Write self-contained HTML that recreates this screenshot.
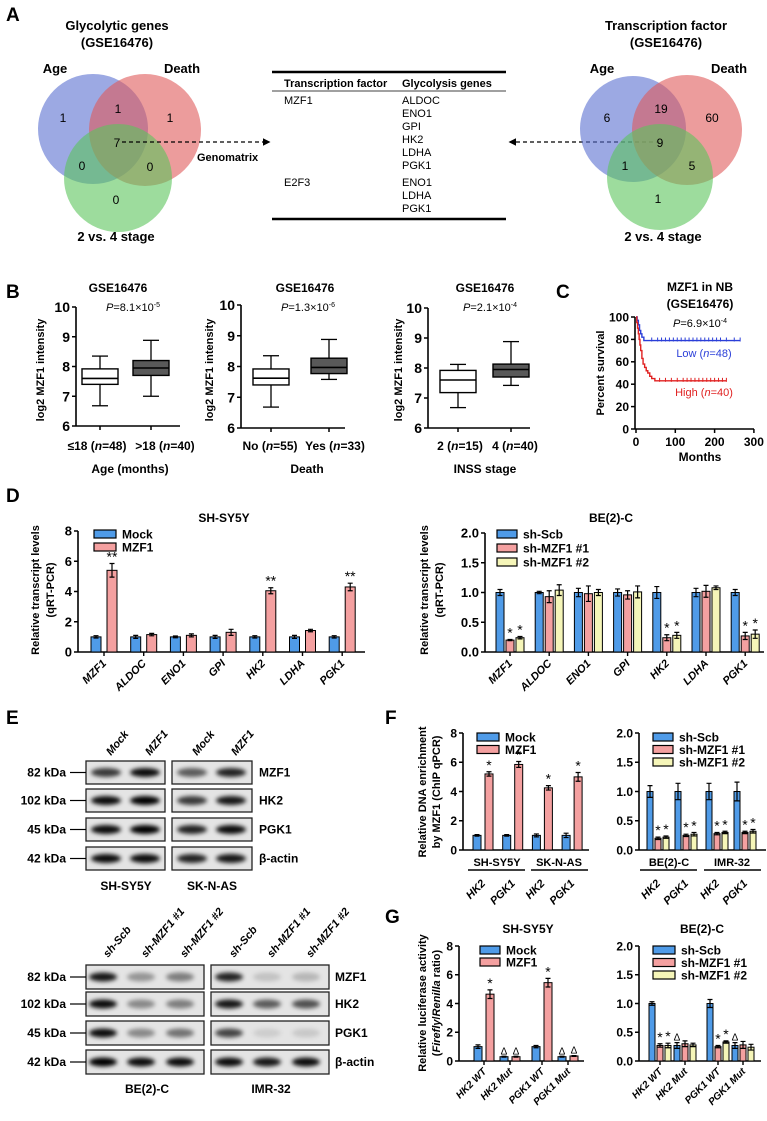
<!DOCTYPE html>
<html><head><meta charset="utf-8">
<style>
html,body{margin:0;padding:0;background:#fff;}
svg{display:block;font-family:"Liberation Sans Narrow","Liberation Sans",sans-serif;}
.b{font-weight:bold;}
</style></head>
<body>
<svg id="fig" xmlns="http://www.w3.org/2000/svg" width="767" height="1121" viewBox="0 0 767 1121">
<defs>
<filter id="blur" x="-30%" y="-60%" width="160%" height="220%"><feGaussianBlur stdDeviation="2"/></filter>
<marker id="arr" viewBox="0 0 10 10" refX="8" refY="5" markerWidth="6" markerHeight="6" orient="auto"><path d="M0,0 L10,5 L0,10 z" fill="#000"/></marker>
</defs>
<text x="6" y="21" font-size="19" class="b">A</text>
<text x="6" y="298" font-size="19" class="b">B</text>
<text x="556" y="298" font-size="19" class="b">C</text>
<text x="6" y="502" font-size="19" class="b">D</text>
<text x="6" y="724" font-size="19" class="b">E</text>
<text x="385" y="724" font-size="19" class="b">F</text>
<text x="385" y="923" font-size="19" class="b">G</text>

<g>
<text x="117" y="30" font-size="13" class="b" text-anchor="middle">Glycolytic genes</text>
<text x="117" y="47" font-size="13" class="b" text-anchor="middle">(GSE16476)</text>
<text x="55" y="73" font-size="13" class="b" text-anchor="middle">Age</text>
<text x="182" y="73" font-size="13" class="b" text-anchor="middle">Death</text>
<circle cx="93" cy="129" r="55" fill="#5a6fd0" fill-opacity="0.6"/>
<circle cx="145" cy="130" r="56" fill="#e05a5a" fill-opacity="0.6"/>
<circle cx="118" cy="178" r="54" fill="#5cc45c" fill-opacity="0.6"/>
<g font-size="12" text-anchor="middle">
<text x="63" y="122">1</text>
<text x="118" y="113">1</text>
<text x="170" y="122">1</text>
<text x="117" y="147">7</text>
<text x="82" y="170">0</text>
<text x="150" y="171">0</text>
<text x="116" y="204">0</text>
</g>
<text x="116" y="241" font-size="13" class="b" text-anchor="middle">2 vs. 4 stage</text>
</g>
<line x1="122" y1="142" x2="269" y2="142" stroke="#000" stroke-width="1.3" stroke-dasharray="4,3" marker-end="url(#arr)"/>
<text x="197" y="161" font-size="11" class="b">Genomatrix</text>

<g font-size="11">
<line x1="272" y1="72" x2="506" y2="72" stroke="#000" stroke-width="2.5"/>
<text x="284" y="87" class="b">Transcription factor</text>
<text x="402" y="87" class="b">Glycolysis genes</text>
<line x1="272" y1="91" x2="506" y2="91" stroke="#000" stroke-width="0.8"/>
<text x="284" y="104">MZF1</text>
<text x="402" y="104">ALDOC</text><text x="402" y="117">ENO1</text><text x="402" y="130">GPI</text>
<text x="402" y="143">HK2</text><text x="402" y="156">LDHA</text><text x="402" y="169">PGK1</text>
<text x="284" y="186">E2F3</text>
<text x="402" y="186">ENO1</text><text x="402" y="199">LDHA</text><text x="402" y="212">PGK1</text>
<line x1="272" y1="219" x2="506" y2="219" stroke="#000" stroke-width="2.5"/>
</g>
<line x1="660" y1="142" x2="510" y2="142" stroke="#000" stroke-width="1.3" stroke-dasharray="4,3" marker-end="url(#arr)"/>

<g>
<text x="666" y="30" font-size="13" class="b" text-anchor="middle">Transcription factor</text>
<text x="666" y="47" font-size="13" class="b" text-anchor="middle">(GSE16476)</text>
<text x="602" y="73" font-size="13" class="b" text-anchor="middle">Age</text>
<text x="729" y="73" font-size="13" class="b" text-anchor="middle">Death</text>
<circle cx="633" cy="129" r="53" fill="#5a6fd0" fill-opacity="0.6"/>
<circle cx="687" cy="130" r="55" fill="#e05a5a" fill-opacity="0.6"/>
<circle cx="660" cy="177" r="53" fill="#5cc45c" fill-opacity="0.6"/>
<g font-size="12" text-anchor="middle">
<text x="607" y="122">6</text>
<text x="661" y="113">19</text>
<text x="712" y="122">60</text>
<text x="660" y="147">9</text>
<text x="625" y="170">1</text>
<text x="692" y="170">5</text>
<text x="658" y="203">1</text>
</g>
<text x="663" y="241" font-size="13" class="b" text-anchor="middle">2 vs. 4 stage</text>
</g>

<g font-size="12" class="b" text-anchor="middle">
<text x="118" y="292">GSE16476</text>
<text x="305" y="292">GSE16476</text>
<text x="485" y="292">GSE16476</text>
<text x="130" y="473">Age (months)</text>
<text x="307" y="473">Death</text>
<text x="485" y="473">INSS stage</text>
<text x="700" y="291">MZF1 in NB</text>
<text x="700" y="308">(GSE16476)</text>
<text x="700" y="461">Months</text>
</g>
<g font-size="11" text-anchor="middle">
<text x="133" y="311"><tspan font-style="italic">P</tspan>=8.1×10<tspan font-size="7" dy="-4">-5</tspan></text>
<text x="308" y="311"><tspan font-style="italic">P</tspan>=1.3×10<tspan font-size="7" dy="-4">-6</tspan></text>
<text x="490" y="311"><tspan font-style="italic">P</tspan>=2.1×10<tspan font-size="7" dy="-4">-4</tspan></text>
<text x="700" y="327"><tspan font-style="italic">P</tspan>=6.9×10<tspan font-size="7" dy="-4">-4</tspan></text>
<text x="704" y="357" fill="#2a3ed8">Low (<tspan font-style="italic">n</tspan>=48)</text>
<text x="704" y="396" fill="#e02020">High (<tspan font-style="italic">n</tspan>=40)</text>
</g>

<text x="224" y="522" font-size="12" class="b" text-anchor="middle">SH-SY5Y</text>
<text x="611" y="522" font-size="12" class="b" text-anchor="middle">BE(2)-C</text>
<text x="528" y="933" font-size="12" class="b" text-anchor="middle">SH-SY5Y</text>
<text x="702" y="933" font-size="12" class="b" text-anchor="middle">BE(2)-C</text>

<g font-size="11" class="b" text-anchor="middle" font-family="Liberation Sans, sans-serif">
<text transform="translate(44,370) rotate(-90)">log2 MZF1 intensity</text>
<text transform="translate(213,370) rotate(-90)">log2 MZF1 intensity</text>
<text transform="translate(402,370) rotate(-90)">log2 MZF1 intensity</text>
<text transform="translate(604,373) rotate(-90)">Percent survival</text>
<text transform="translate(39,590) rotate(-90)">Relative transcript levels</text>
<text transform="translate(54,590) rotate(-90)">(qRT-PCR)</text>
<text transform="translate(428,590) rotate(-90)">Relative transcript levels</text>
<text transform="translate(443,590) rotate(-90)">(qRT-PCR)</text>
<text transform="translate(426,792) rotate(-90)">Relative DNA enrichment</text>
<text transform="translate(440,792) rotate(-90)">by MZF1 (ChIP qPCR)</text>
<text transform="translate(426,1003) rotate(-90)">Relative luciferase activity</text>
<text transform="translate(440,1003) rotate(-90)">(<tspan font-style="italic">Firefly</tspan>/<tspan font-style="italic">Renilla</tspan> ratio)</text>
</g>
<g font-size="11" class="b" text-anchor="middle">
<text x="497" y="866">SH-SY5Y</text>
<line x1="468" y1="870" x2="525" y2="870" stroke="#000" stroke-width="1.5"/>
<text x="559" y="866">SK-N-AS</text>
<line x1="531" y1="870" x2="588" y2="870" stroke="#000" stroke-width="1.5"/>
<text x="669" y="866">BE(2)-C</text>
<line x1="640" y1="870" x2="697" y2="870" stroke="#000" stroke-width="1.5"/>
<text x="732" y="866">IMR-32</text>
<line x1="704" y1="870" x2="761" y2="870" stroke="#000" stroke-width="1.5"/>
</g>
<g font-size="12" class="b" text-anchor="middle">
<text x="126" y="890">SH-SY5Y</text>
<text x="212" y="890">SK-N-AS</text>
<text x="147" y="1093">BE(2)-C</text>
<text x="271" y="1093">IMR-32</text>
</g>
</svg>
<script>
const box1Cats = ['≤18 (n=48)', '>18 (n=40)'];
const box1Lo = [6.68, 7.0], box1Q1 = [7.4, 7.7], box1Med = [7.6, 7.95], box1Q3 = [7.92, 8.2], box1Hi = [8.35, 8.88];
const box2Cats = ['No (n=55)', 'Yes (n=33)'];
const box2Lo = [6.68, 7.58], box2Q1 = [7.4, 7.77], box2Med = [7.62, 7.97], box2Q3 = [7.92, 8.27], box2Hi = [8.35, 8.88];
const box3Cats = ['2 (n=15)', '4 (n=40)'];
const box3Lo = [6.68, 7.42], box3Q1 = [7.18, 7.7], box3Med = [7.6, 7.95], box3Q3 = [7.92, 8.13], box3Hi = [8.12, 8.88];
const boxTicks = [6, 7, 8, 9, 10];
const kmLowT = [0, 3, 6, 9, 12, 15, 20, 265];
const kmLowS = [100, 97, 93, 88, 85, 82, 79, 79];
const kmHighT = [0, 2, 4, 6, 8, 10, 12, 15, 18, 22, 26, 30, 35, 40, 48, 230];
const kmHighS = [100, 95, 90, 85, 80, 75, 70, 63, 58, 55, 52, 50, 47, 45, 43, 43];
const kmLowCens = [40, 55, 65, 75, 85, 95, 105, 115, 125, 135, 145, 155, 165, 175, 185, 195, 205, 215, 230, 250, 265];
const kmHighCens = [60, 75, 90, 105, 120, 130, 140, 150, 160, 170, 180, 190, 200, 210, 220, 230];
const kmXTicks = [0, 100, 200, 300];
const kmYTicks = [0, 20, 40, 60, 80, 100];
const dGenes = ['MZF1', 'ALDOC', 'ENO1', 'GPI', 'HK2', 'LDHA', 'PGK1'];
const dLeftMock = [1, 1, 1, 1, 1, 1, 1];
const dLeftMockErr = [0.08, 0.1, 0.06, 0.1, 0.08, 0.1, 0.08];
const dLeftMZF1 = [5.4, 1.15, 1.1, 1.3, 4.05, 1.42, 4.3];
const dLeftMZF1Err = [0.45, 0.08, 0.1, 0.2, 0.2, 0.08, 0.25];
const dLeftAnn = ['**', '', '', '', '**', '', '**'];
const dRightScb = [1, 1, 1, 1, 1, 1, 1];
const dRightScbErr = [0.05, 0.02, 0.07, 0.06, 0.1, 0.07, 0.05];
const dRightSh1 = [0.2, 0.93, 0.98, 0.96, 0.24, 1.02, 0.27];
const dRightSh1Err = [0.01, 0.1, 0.13, 0.07, 0.05, 0.1, 0.06];
const dRightSh2 = [0.24, 1.04, 1.0, 1.01, 0.28, 1.08, 0.3];
const dRightSh2Err = [0.02, 0.09, 0.05, 0.1, 0.05, 0.03, 0.07];
const dRightAnn1 = ['*', '', '', '', '*', '', '*'];
const dRightAnn2 = ['*', '', '', '', '*', '', '*'];
const fLeftCats = ['HK2', 'PGK1', 'HK2', 'PGK1'];
const fLeftMock = [1, 1, 1, 1];
const fLeftMockErr = [0.05, 0.05, 0.1, 0.15];
const fLeftMZF1 = [5.2, 5.85, 4.25, 5.0];
const fLeftMZF1Err = [0.15, 0.2, 0.15, 0.3];
const fLeftAnn = ['*', '*', '*', '*'];
const fRightCats = ['HK2', 'PGK1', 'HK2', 'PGK1'];
const fRightScb = [1, 1, 1, 1];
const fRightScbErr = [0.1, 0.14, 0.14, 0.16];
const fRightSh1 = [0.2, 0.25, 0.28, 0.3];
const fRightSh1Err = [0.02, 0.02, 0.02, 0.02];
const fRightSh2 = [0.22, 0.27, 0.3, 0.32];
const fRightSh2Err = [0.02, 0.03, 0.02, 0.03];
const gCats = ['HK2 WT', 'HK2 Mut', 'PGK1 WT', 'PGK1 Mut'];
const gLeftMock = [1.0, 0.3, 1.0, 0.3];
const gLeftMockErr = [0.12, 0.03, 0.08, 0.03];
const gLeftMZF1 = [4.65, 0.3, 5.45, 0.35];
const gLeftMZF1Err = [0.3, 0.03, 0.3, 0.03];
const gLeftAnnMock = ['', 'Δ', '', 'Δ'];
const gLeftAnnMZF1 = ['*', 'Δ', '*', 'Δ'];
const gRightScb = [1.0, 0.27, 1.0, 0.27];
const gRightScbErr = [0.03, 0.05, 0.07, 0.05];
const gRightSh1 = [0.27, 0.3, 0.25, 0.28];
const gRightSh1Err = [0.03, 0.05, 0.02, 0.06];
const gRightSh2 = [0.27, 0.28, 0.33, 0.24];
const gRightSh2Err = [0.04, 0.03, 0.02, 0.05];
const gRightAnnScb = ['', 'Δ', '', 'Δ'];
const gRightAnnSh1 = ['*', '', '*', ''];
const gRightAnnSh2 = ['*', '', '*', ''];
const wbTopRows = ['MZF1', 'HK2', 'PGK1', 'β-actin'];
const wbTopKDa = ['82 kDa', '102 kDa', '45 kDa', '42 kDa'];
const wbTopLanes = ['Mock', 'MZF1', 'Mock', 'MZF1'];
const wbTopInt = [[0.75, 0.95, 0.6, 0.85], [0.95, 1.0, 0.75, 0.9], [0.95, 1.0, 0.85, 0.95], [0.95, 0.95, 0.85, 0.9]];
const wbBotRows = ['MZF1', 'HK2', 'PGK1', 'β-actin'];
const wbBotKDa = ['82 kDa', '102 kDa', '45 kDa', '42 kDa'];
const wbBotLanes = ['sh-Scb', 'sh-MZF1 #1', 'sh-MZF1 #2', 'sh-Scb', 'sh-MZF1 #1', 'sh-MZF1 #2'];
const wbBotInt = [[0.9, 0.35, 0.45, 0.85, 0.15, 0.2], [0.95, 0.4, 0.45, 0.9, 0.6, 0.65], [0.95, 0.4, 0.5, 0.7, 0.1, 0.12], [1.0, 0.95, 0.95, 0.95, 0.9, 0.95]];

const NS = 'http://www.w3.org/2000/svg';
const svg = document.getElementById('fig');
function mk(tag, attrs, parent) {
  const e = document.createElementNS(NS, tag);
  for (const k in attrs) e.setAttribute(k, attrs[k]);
  (parent || svg).appendChild(e);
  return e;
}
function tx(x, y, s, attrs, parent) {
  const e = mk('text', Object.assign({x: x, y: y}, attrs || {}), parent);
  e.textContent = s;
  return e;
}
const BLUE = '#4f9be8', RED = '#f4a0a0', YEL = '#f5f5b8';

function yAxis(g, x, y0, yTop, vmin, vmax, ticks, fmt, fs) {
  const sy = v => y0 - (v - vmin) / (vmax - vmin) * (y0 - yTop);
  const ax = mk('line', {x1: x, y1: y0, x2: x, y2: yTop, stroke: '#000', 'stroke-width': 1.6}, g);
  
  
  ticks.forEach(t => {
    const tl = mk('line', {x1: x - 4, y1: sy(t), x2: x, y2: sy(t), stroke: '#000', 'stroke-width': 1.5}, g);
    
    
    const lb = tx(x - 6, sy(t) + fs * 0.36, fmt(t), {'font-size': fs, 'font-weight': 'bold', 'text-anchor': 'end'}, g);
    
    
  });
  return sy;
}
function xAxis(g, x1, x2, y) {
  const l = mk('line', {x1: x1, y1: y, x2: x2, y2: y, stroke: '#000', 'stroke-width': 1.6}, g);
  
  
}

function boxPlot(name, axX, axEnd, y0, yTop, cats, centers, lo, q1, med, q3, hi, catLabelX, fills) {
  const g = mk('g', {});  
  const sy = yAxis(g, axX, y0, yTop, 6, 10, boxTicks, v => String(v), 14);
  xAxis(g, axX, axEnd, y0);
  cats.forEach((c, i) => {
    const cx = centers[i], w = 36;
    const wl = mk('line', {x1: cx, y1: sy(lo[i]), x2: cx, y2: sy(hi[i]), stroke: '#000', 'stroke-width': 1.3}, g);
    
    
    [lo[i], hi[i]].forEach(v => {
      const cap = mk('line', {x1: cx - 8, y1: sy(v), x2: cx + 8, y2: sy(v), stroke: '#000', 'stroke-width': 1.3}, g);
      
      
    });
    const r = mk('rect', {x: cx - w / 2, y: sy(q3[i]), width: w, height: sy(q1[i]) - sy(q3[i]), fill: fills[i], stroke: '#000', 'stroke-width': 1.4}, g);
    
    
    const m = mk('line', {x1: cx - w / 2, y1: sy(med[i]), x2: cx + w / 2, y2: sy(med[i]), stroke: '#000', 'stroke-width': 1.6}, g);
    
    
    const tk = mk('line', {x1: cx, y1: y0, x2: cx, y2: y0 + 4, stroke: '#000', 'stroke-width': 1.5}, g);
    
    
    const parts = c.match(/^(.*)\((n)(=\d+)\)$/);
    const lb = mk('text', {x: catLabelX[i], y: 450, 'font-size': 12, 'font-weight': 'bold', 'text-anchor': 'middle'}, g);
    
    
    lb.appendChild(document.createTextNode(parts[1] + '('));
    const it = mk('tspan', {'font-style': 'italic'}, lb); it.textContent = 'n';
    lb.appendChild(document.createTextNode(parts[3] + ')'));
  });
}
boxPlot('box-plot-age', 76, 180, 426, 307, box1Cats, [100, 151], box1Lo, box1Q1, box1Med, box1Q3, box1Hi, [97, 165], ['#fff', '#595959']);
boxPlot('box-plot-death', 241, 345, 428, 305, box2Cats, [271, 329], box2Lo, box2Q1, box2Med, box2Q3, box2Hi, [270, 335], ['#fff', '#595959']);
boxPlot('box-plot-stage', 428, 530, 428, 308, box3Cats, [458, 511], box3Lo, box3Q1, box3Med, box3Q3, box3Hi, [460, 515], ['#fff', '#595959']);

(function () {
  const g = mk('g', {});  
  const sx = t => 636 + t * 0.393;
  const sy = yAxis(g, 635, 429, 317, 0, 100, kmYTicks, v => String(v), 12);
  xAxis(g, 635, 754, 429);
  kmXTicks.forEach(t => {
    const tk = mk('line', {x1: sx(t), y1: 429, x2: sx(t), y2: 433, stroke: '#000', 'stroke-width': 1.5}, g);
    
    
    const lb = tx(sx(t), 446, String(t), {'font-size': 12, 'font-weight': 'bold', 'text-anchor': 'middle'}, g);
    
    
  });
  function step(T, S, col, cens, name) {
    let d = 'M' + sx(T[0]) + ',' + sy(S[0]);
    for (let i = 1; i < T.length; i++) d += ' H' + sx(T[i]) + ' V' + sy(S[i]);
    const p = mk('path', {d: d, fill: 'none', stroke: col, 'stroke-width': 1.4}, g);
    
    
    const last = S[S.length - 1];
    cens.forEach(t => {
      const c = mk('line', {x1: sx(t), y1: sy(last) - 3, x2: sx(t), y2: sy(last) + 1, stroke: col, 'stroke-width': 1}, g);
      
      
    });
  }
  step(kmLowT, kmLowS, '#2a3ed8', kmLowCens, 'km-low-curve');
  step(kmHighT, kmHighS, '#e02020', kmHighCens, 'km-high-curve');
})();

function barChart(cfg) {
  const g = mk('g', {});  
  const sy = yAxis(g, cfg.axX, cfg.y0, cfg.yTop, 0, cfg.ymax, cfg.ticks, cfg.fmt, cfg.fs);
  xAxis(g, cfg.axX, cfg.axEnd, cfg.y0);
  const n = cfg.cats.length;
  for (let i = 0; i < n; i++) {
    const cx = cfg.center(i);
    cfg.series.forEach((s, k) => {
      const bx = cx + cfg.offsets[k];
      const v = s[i], e = cfg.errs[k][i];
      const r = mk('rect', {x: bx - cfg.bw / 2, y: sy(v), width: cfg.bw, height: cfg.y0 - sy(v), fill: cfg.colors[k], stroke: '#000', 'stroke-width': 1}, g);
      
      
      const el = mk('path', {d: 'M' + bx + ',' + sy(v - e) + ' V' + sy(v + e) + ' M' + (bx - 2.5) + ',' + sy(v + e) + ' h5 M' + (bx - 2.5) + ',' + sy(v - e) + ' h5', stroke: '#000', 'stroke-width': 1.2, fill: 'none'}, g);
      
      
      const a = cfg.ann[k] ? cfg.ann[k][i] : '';
      if (a) {
        const at = tx(bx, sy(v + e) - 2, a, {'font-size': a === 'Δ' ? 10 : 14, 'text-anchor': 'middle'}, g);
        
        
      }
    });
    if (cfg.xTicks) {
      const tk = mk('line', {x1: cx, y1: cfg.y0, x2: cx, y2: cfg.y0 + 4, stroke: '#000', 'stroke-width': 1.4}, g);
      
      
    }
    const ly = cfg.labelY;
    const lb = tx(cx + 3, ly, cfg.cats[i], {'font-size': cfg.lfs, 'font-weight': 'bold', 'font-style': 'italic', 'text-anchor': 'end', transform: 'rotate(-45 ' + (cx + 3) + ' ' + ly + ')'}, g);
    
    
  }
  cfg.legend.forEach((l, k) => {
    const r = mk('rect', {x: cfg.legX, y: cfg.legY + k * cfg.legDy - 4, width: cfg.legW, height: 8, fill: cfg.colors[k], stroke: '#000', 'stroke-width': 1.2}, g);
    
    
    const t = tx(cfg.legX + cfg.legW + 6, cfg.legY + k * cfg.legDy + 4.5, l, {'font-size': cfg.legFs, 'font-weight': 'bold'}, g);
    
    
  });
}
const f1 = v => v.toFixed(1), f0 = v => String(v);
barChart({name: 'chart-d-shsy5y', axX: 78, axEnd: 365, y0: 652, yTop: 531, ymax: 8, ticks: [0, 2, 4, 6, 8], fmt: f0, fs: 13,
  cats: dGenes, center: i => 104 + i * 39.7, series: [dLeftMock, dLeftMZF1], errs: [dLeftMockErr, dLeftMZF1Err],
  offsets: [-8, 8], bw: 10, colors: [BLUE, RED], seriesNames: ['mock', 'mzf1'], ann: [null, dLeftAnn], xTicks: true,
  labelY: 664, lfs: 11, legend: ['Mock', 'MZF1'], legX: 94, legY: 534, legDy: 13, legW: 22, legFs: 12});
barChart({name: 'chart-d-be2c', axX: 485, axEnd: 764, y0: 652, yTop: 533, ymax: 2, ticks: [0, 0.5, 1, 1.5, 2], fmt: f1, fs: 13,
  cats: dGenes, center: i => 510 + i * 39.2, series: [dRightScb, dRightSh1, dRightSh2], errs: [dRightScbErr, dRightSh1Err, dRightSh2Err],
  offsets: [-10, 0, 10], bw: 8, colors: [BLUE, RED, YEL], seriesNames: ['sh-scb', 'sh-mzf1-1', 'sh-mzf1-2'], ann: [null, dRightAnn1, dRightAnn2], xTicks: true,
  labelY: 664, lfs: 11, legend: ['sh-Scb', 'sh-MZF1 #1', 'sh-MZF1 #2'], legX: 497, legY: 534, legDy: 14, legW: 20, legFs: 12});
barChart({name: 'chart-f-chip-oe', axX: 463, axEnd: 589, y0: 850, yTop: 733, ymax: 8, ticks: [0, 2, 4, 6, 8], fmt: f0, fs: 12,
  cats: fLeftCats, center: i => 483 + i * 29.7, series: [fLeftMock, fLeftMZF1], errs: [fLeftMockErr, fLeftMZF1Err],
  offsets: [-6, 6], bw: 8, colors: [BLUE, RED], seriesNames: ['mock', 'mzf1'], ann: [null, fLeftAnn], xTicks: false,
  labelY: 884, lfs: 11, legend: ['Mock', 'MZF1'], legX: 477, legY: 737, legDy: 12.5, legW: 22, legFs: 12});
barChart({name: 'chart-f-chip-kd', axX: 639, axEnd: 766, y0: 850, yTop: 733, ymax: 2, ticks: [0, 0.5, 1, 1.5, 2], fmt: f1, fs: 12,
  cats: fRightCats, center: i => 658 + i * 28 + 3 * Math.floor(i / 2), series: [fRightScb, fRightSh1, fRightSh2], errs: [fRightScbErr, fRightSh1Err, fRightSh2Err],
  offsets: [-8, 0, 8], bw: 6, colors: [BLUE, RED, YEL], seriesNames: ['sh-scb', 'sh-mzf1-1', 'sh-mzf1-2'], ann: [null, ['*', '*', '*', '*'], ['*', '*', '*', '*']], xTicks: false,
  labelY: 884, lfs: 11, legend: ['sh-Scb', 'sh-MZF1 #1', 'sh-MZF1 #2'], legX: 653, legY: 737, legDy: 12.5, legW: 20, legFs: 12});
barChart({name: 'chart-g-luc-oe', axX: 459, axEnd: 584, y0: 1061, yTop: 946, ymax: 8, ticks: [0, 2, 4, 6, 8], fmt: f0, fs: 12,
  cats: gCats, center: i => 484 + i * 26 + 6 * Math.floor(i / 2), series: [gLeftMock, gLeftMZF1], errs: [gLeftMockErr, gLeftMZF1Err],
  offsets: [-6, 6], bw: 8, colors: [BLUE, RED], seriesNames: ['mock', 'mzf1'], ann: [gLeftAnnMock, gLeftAnnMZF1], xTicks: true,
  labelY: 1072, lfs: 10, legend: ['Mock', 'MZF1'], legX: 480, legY: 950, legDy: 12, legW: 20, legFs: 12});
barChart({name: 'chart-g-luc-kd', axX: 639, axEnd: 761, y0: 1061, yTop: 946, ymax: 2, ticks: [0, 0.5, 1, 1.5, 2], fmt: f1, fs: 12,
  cats: gCats, center: i => 660 + i * 25 + 8 * Math.floor(i / 2), series: [gRightScb, gRightSh1, gRightSh2], errs: [gRightScbErr, gRightSh1Err, gRightSh2Err],
  offsets: [-8, 0, 8], bw: 6, colors: [BLUE, RED, YEL], seriesNames: ['sh-scb', 'sh-mzf1-1', 'sh-mzf1-2'], ann: [gRightAnnScb, gRightAnnSh1, gRightAnnSh2], xTicks: true,
  labelY: 1072, lfs: 10, legend: ['sh-Scb', 'sh-MZF1 #1', 'sh-MZF1 #2'], legX: 653, legY: 950, legDy: 12.5, legW: 22, legFs: 12});

function blot(name, boxes, rowsY, rowH, rows, kda, lanes, lanesX, ints, labelRightX, laneLabelY, bandW) {
  const g = mk('g', {});  
  rows.forEach((row, r) => {
    const y = rowsY[r];
    boxes.forEach(b => {
      const rc = mk('rect', {x: b[0], y: y, width: b[1] - b[0], height: rowH, fill: '#e4e4e4', stroke: '#222', 'stroke-width': 1.3}, g);
      
      
    });
    lanesX.forEach((lx, l) => {
      const e = mk('ellipse', {cx: lx, cy: y + rowH / 2, rx: bandW / 2, ry: 4.5, fill: '#000', 'fill-opacity': ints[r][l], filter: 'url(#blur)'}, g);
      
      
    });
    const k = tx(66, y + rowH / 2 + 4, kda[r], {'font-size': 12, 'font-weight': 'bold', 'text-anchor': 'end'}, g);
    
    
    const dl = mk('line', {x1: 70, y1: y + rowH / 2, x2: boxes[0][0], y2: y + rowH / 2, stroke: '#000', 'stroke-width': 1.2}, g);
    
    
    const rl = tx(labelRightX, y + rowH / 2 + 4, row, {'font-size': 12, 'font-weight': 'bold'}, g);
    
    
  });
  lanes.forEach((ln, l) => {
    const lx = lanesX[l];
    const t = tx(lx + 5, laneLabelY, ln, {'font-size': 11, 'font-weight': 'bold', 'font-style': 'italic', transform: 'rotate(-50 ' + (lx + 5) + ' ' + laneLabelY + ')'}, g);
    
    
  });
}
blot('western-blot-overexpression', [[86, 165], [172, 252]], [761, 789, 818, 847], 23, wbTopRows, wbTopKDa, wbTopLanes, [106, 145, 192, 231], wbTopInt, 259, 756, 30);
blot('western-blot-knockdown', [[86, 204], [211, 329]], [965, 992, 1021, 1050], 24, wbBotRows, wbBotKDa, wbBotLanes, [103, 141, 180, 229, 267, 306], wbBotInt, 335, 958, 28);
</script>
</body></html>
